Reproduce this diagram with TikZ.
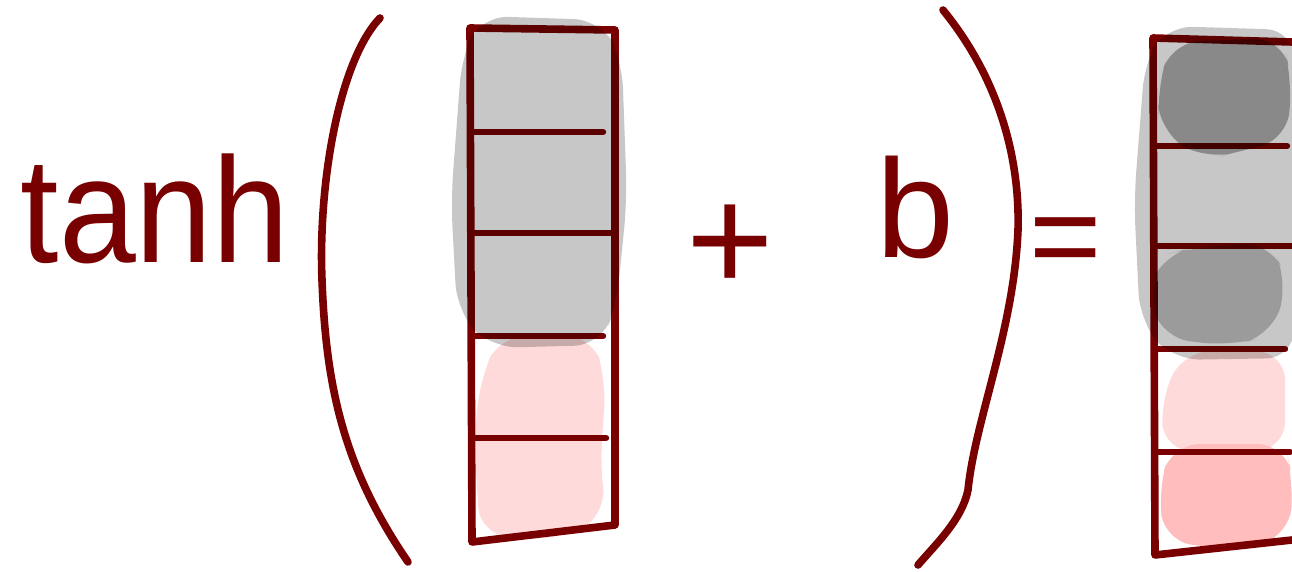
\documentclass[tikz,border=0pt]{standalone}
\usepackage{fontspec}
\setmainfont{Liberation Sans}
\definecolor{ink}{HTML}{780000}
\definecolor{pinkfill}{HTML}{FFDADA}
\definecolor{pinkdark}{HTML}{FFBDBD}
\tikzset{
  stroke/.style={draw=ink, line width=3.8pt, line cap=round, line join=round},
  divider/.style={draw=ink, line width=3.2pt, line cap=round},
  grayblob/.style={fill=black, fill opacity=0.22, rounded corners=14pt},
  darkblob/.style={fill=black, fill opacity=0.31, rounded corners=14pt},
  midblob/.style={fill=black, fill opacity=0.22, rounded corners=14pt},
  pinkblob/.style={fill=pinkfill, rounded corners=14pt},
  pinkdarkblob/.style={fill=pinkdark, rounded corners=14pt},
  handtext/.style={text=ink, inner sep=0pt, font=\fontsize{75}{80}\selectfont},
}
\begin{document}
\begin{tikzpicture}[x=0.5pt,y=-0.5pt]
\useasboundingbox (0,0) rectangle (1292,572);
% text
\node[handtext, anchor=base, xscale=0.92] (tanh) at (155,263) {tanh};
\node[handtext] (plus) at (730,248) {+};
\node[handtext, anchor=base, font=\fontsize{70}{75}\selectfont] (b) at (915,258) {b};
\node[handtext, font=\fontsize{62}{66}\selectfont] (eq) at (1066,248) {=};
% parentheses
\coordinate (lp1) at (380,18);
\coordinate (lp2) at (322,280);
\coordinate (lp3) at (408,562);
\draw[stroke] (lp1) .. controls (340,60) and (318,180) .. (lp2)
  .. controls (326,390) and (345,470) .. (lp3);
\coordinate (rp1) at (943,10);
\coordinate (rp2) at (1018,230);
\coordinate (rp3) at (968,490);
\coordinate (rp4) at (918,565);
\draw[stroke] (rp1) .. controls (1000,80) and (1020,160) .. (rp2)
  .. controls (1014,330) and (975,420) .. (rp3)
  .. controls (962,520) and (935,545) .. (rp4);
% vector 1
\fill[pinkblob] (500,335) -- (592,335) -- (606,380) -- (600,470) -- (607,515) -- (560,540) -- (480,535) -- (474,440) -- (480,380) -- cycle;
\coordinate (v1a) at (470,28);
\coordinate (v1b) at (615,30);
\coordinate (v1c) at (615,525);
\coordinate (v1d) at (472,542);
\draw[stroke] (v1a) -- (v1b) -- (v1c) -- (v1d) -- cycle;
\draw[divider] (472,132) -- (603,132);
\draw[divider] (472,233) -- (613,233);
\draw[divider] (472,336) -- (603,336);
\draw[divider] (475,438) -- (606,438);
\fill[grayblob] (480,16) -- (602,20) -- (622,60) -- (627,200) -- (617,300) -- (602,345) -- (490,348) -- (457,312) -- (451,200) -- (462,55) -- cycle;
% vector 2
\fill[pinkblob] (1185,350) -- (1285,352) -- (1285,450) -- (1165,452) -- (1160,400) -- cycle;
\fill[pinkdarkblob] (1172,444) -- (1285,444) -- (1293,480) -- (1290,535) -- (1240,550) -- (1165,542) -- (1158,490) -- cycle;
\coordinate (v2a) at (1292,42);
\coordinate (v2b) at (1153,38);
\coordinate (v2c) at (1155,555);
\coordinate (v2d) at (1292,540);
\draw[stroke] (v2a) -- (v2b) -- (v2c) -- (v2d);
\draw[divider] (1157,146) -- (1287,146);
\draw[divider] (1157,246) -- (1294,246);
\draw[divider] (1157,349) -- (1285,349);
\draw[divider] (1157,452) -- (1290,452);
\fill[grayblob] (1165,26) -- (1294,30) -- (1294,358) -- (1172,360) -- (1140,322) -- (1134,200) -- (1145,60) -- cycle;
\fill[darkblob] (1172,42) -- (1282,38) -- (1292,80) -- (1287,140) -- (1245,150) -- (1205,160) -- (1160,132) -- (1157,88) -- cycle;
\fill[midblob] (1192,248) -- (1270,242) -- (1288,282) -- (1272,335) -- (1230,346) -- (1162,338) -- (1148,292) -- (1162,255) -- cycle;
\end{tikzpicture}
\end{document}
